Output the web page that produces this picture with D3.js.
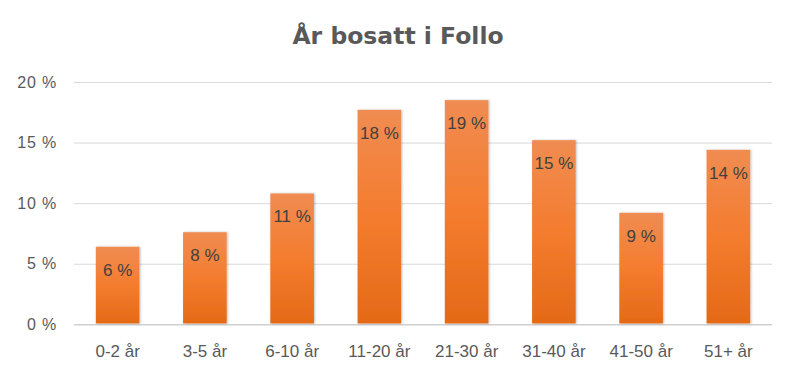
<!DOCTYPE html>
<html>
<head>
<meta charset="utf-8">
<script src="https://cdn.jsdelivr.net/npm/d3@7"></script>
<style>
  body { margin: 0; background: #fff; }
  text { font-family: "Liberation Sans", Arial, sans-serif; }
</style>
</head>
<body>
<script>
var categories = ["0-2 år", "3-5 år", "6-10 år", "11-20 år", "21-30 år", "31-40 år", "41-50 år", "51+ år"];
var values = [6.4, 7.6, 10.8, 17.7, 18.5, 15.2, 9.2, 14.4];   // prosent
var yTicks = [0, 5, 10, 15, 20];

var w = 797;
var h = 376;
var margin = {top: 82, right: 25, bottom: 52, left: 74};

var svg = d3.select("body")
            .append("svg")
            .attr("width", w)
            .attr("height", h);

// gradient + skygge for søylene
var defs = svg.append("defs");
var grad = defs.append("linearGradient")
    .attr("id", "barGrad")
    .attr("x1", 0).attr("y1", 0).attr("x2", 0).attr("y2", 1);
grad.append("stop").attr("offset", "0%").attr("stop-color", "#f08c52");
grad.append("stop").attr("offset", "50%").attr("stop-color", "#f47c2e");
grad.append("stop").attr("offset", "100%").attr("stop-color", "#e46a17");

var shadow = defs.append("filter").attr("id", "shadow")
    .attr("x", "-20%").attr("y", "-5%").attr("width", "140%").attr("height", "110%");
shadow.append("feDropShadow")
    .attr("dx", 1).attr("dy", 0).attr("stdDeviation", 1.2)
    .attr("flood-color", "#000").attr("flood-opacity", 0.25);

var x = d3.scaleBand()
    .domain(categories)
    .range([margin.left, w - margin.right])
    .paddingInner(0.5)
    .paddingOuter(0.25);

var y = d3.scaleLinear()
    .domain([0, 20])
    .range([h - margin.bottom + 0.3, margin.top]);

// tittel
svg.append("text")
    .attr("x", 398)
    .attr("y", 44)
    .attr("text-anchor", "middle")
    .style("font-family", "'DejaVu Sans', 'Open Sans', sans-serif")
    .attr("font-size", "23.5px")
    .attr("font-weight", "bold")
    .attr("fill", "#595959")
    .text("År bosatt i Follo");

// rutenett
var yAxis = d3.axisLeft(y)
    .tickValues(yTicks)
    .tickSize(-(w - margin.left - margin.right))
    .tickPadding(17)
    .tickFormat(function(d) { return d + "\u00a0%"; });

var gy = svg.append("g")
    .attr("transform", "translate(" + margin.left + ",0)")
    .call(yAxis);
gy.select(".domain").remove();
gy.selectAll(".tick line")
    .attr("stroke", function(d) { return d === 0 ? "#d0d0d0" : "#d9d9d9"; })
    .attr("stroke-width", function(d) { return d === 0 ? 1.5 : 1; });
gy.selectAll(".tick text")
    .attr("font-size", "16px")
    .attr("letter-spacing", "0.8px")
    .attr("fill", "#595959");

// søyler
svg.selectAll("rect.bar")
    .data(values)
    .enter()
    .append("rect")
    .attr("class", "bar")
    .attr("x", function(d, i) { return x(categories[i]); })
    .attr("y", function(d) { return y(d); })
    .attr("width", x.bandwidth())
    .attr("height", function(d) { return y(0) - y(d) - 0.8; })
    .attr("fill", "url(#barGrad)")
    .attr("filter", "url(#shadow)");

// dataetiketter
svg.selectAll("text.lbl")
    .data(values)
    .enter()
    .append("text")
    .attr("class", "lbl")
    .attr("text-anchor", "middle")
    .attr("x", function(d, i) { return x(categories[i]) + x.bandwidth() / 2; })
    .attr("y", function(d) { return y(d) + 29; })
    .attr("font-size", "17px")
    .attr("fill", "#404040")
    .text(function(d) { return Math.round(d) + "\u00a0%"; });

// x-akse
var gx = svg.append("g")
    .attr("transform", "translate(0," + (h - margin.bottom) + ")")
    .call(d3.axisBottom(x).tickSize(0).tickPadding(21));
gx.select(".domain").remove();
gx.selectAll(".tick text")
    .attr("font-size", "17px")
    .attr("fill", "#595959");
</script>
</body>
</html>
